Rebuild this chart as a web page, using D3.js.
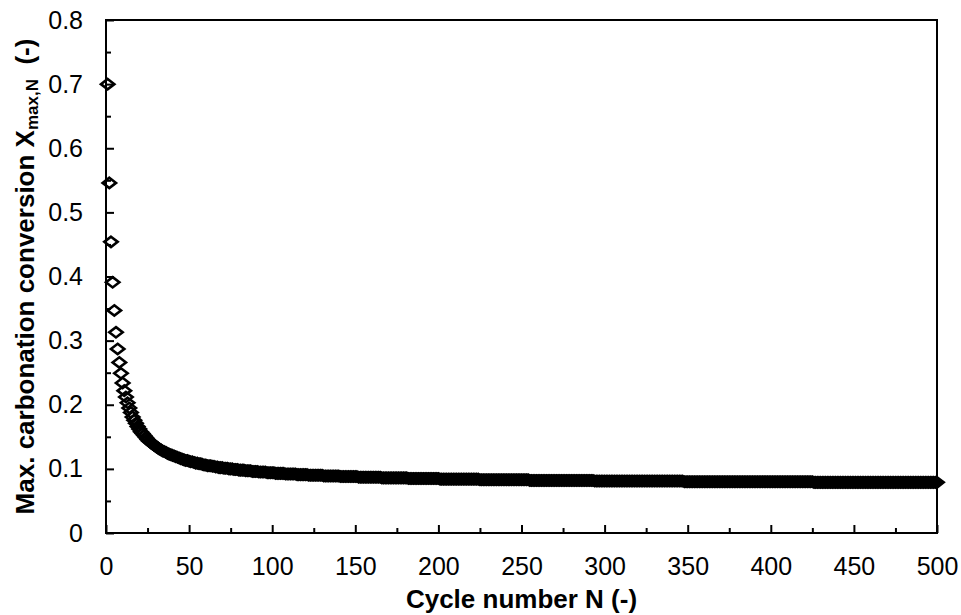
<!DOCTYPE html>
<html>
<head>
<meta charset="utf-8">
<script src="https://cdn.jsdelivr.net/npm/d3@7"></script>
<style>
  html, body { margin: 0; padding: 0; background: #fff; }
  svg { display: block; font-family: "Liberation Sans", Arial, sans-serif; }
</style>
</head>
<body>
<svg id="chart" width="961" height="615"></svg>
<script>
// Maximum carbonation conversion X_max,N for cycles N = 1 ... 500
const conversion = [
  0.700, 0.546, 0.454, 0.391, 0.347, 0.313, 0.287, 0.266, 0.249, 0.234,
  0.222, 0.212, 0.203, 0.195, 0.188, 0.181, 0.176, 0.171, 0.166, 0.162,
  0.158, 0.155, 0.152, 0.149, 0.146, 0.143, 0.141, 0.139, 0.137, 0.135,
  0.133, 0.131, 0.130, 0.128, 0.127, 0.126, 0.124, 0.123, 0.122, 0.121,
  0.120, 0.119, 0.118, 0.117, 0.116, 0.115, 0.114, 0.113, 0.113, 0.112,
  0.111, 0.111, 0.110, 0.109, 0.109, 0.108, 0.108, 0.107, 0.106, 0.106,
  0.105, 0.105, 0.105, 0.104, 0.104, 0.103, 0.103, 0.102, 0.102, 0.102,
  0.101, 0.101, 0.101, 0.100, 0.100, 0.100, 0.099, 0.099, 0.099, 0.098,
  0.098, 0.098, 0.098, 0.097, 0.097, 0.097, 0.097, 0.096, 0.096, 0.096,
  0.096, 0.095, 0.095, 0.095, 0.095, 0.095, 0.094, 0.094, 0.094, 0.094,
  0.094, 0.093, 0.093, 0.093, 0.093, 0.093, 0.093, 0.092, 0.092, 0.092,
  0.092, 0.092, 0.092, 0.092, 0.091, 0.091, 0.091, 0.091, 0.091, 0.091,
  0.091, 0.090, 0.090, 0.090, 0.090, 0.090, 0.090, 0.090, 0.090, 0.090,
  0.089, 0.089, 0.089, 0.089, 0.089, 0.089, 0.089, 0.089, 0.089, 0.089,
  0.088, 0.088, 0.088, 0.088, 0.088, 0.088, 0.088, 0.088, 0.088, 0.088,
  0.088, 0.087, 0.087, 0.087, 0.087, 0.087, 0.087, 0.087, 0.087, 0.087,
  0.087, 0.087, 0.087, 0.087, 0.087, 0.086, 0.086, 0.086, 0.086, 0.086,
  0.086, 0.086, 0.086, 0.086, 0.086, 0.086, 0.086, 0.086, 0.086, 0.086,
  0.086, 0.085, 0.085, 0.085, 0.085, 0.085, 0.085, 0.085, 0.085, 0.085,
  0.085, 0.085, 0.085, 0.085, 0.085, 0.085, 0.085, 0.085, 0.085, 0.085,
  0.084, 0.084, 0.084, 0.084, 0.084, 0.084, 0.084, 0.084, 0.084, 0.084,
  0.084, 0.084, 0.084, 0.084, 0.084, 0.084, 0.084, 0.084, 0.084, 0.084,
  0.084, 0.084, 0.084, 0.084, 0.083, 0.083, 0.083, 0.083, 0.083, 0.083,
  0.083, 0.083, 0.083, 0.083, 0.083, 0.083, 0.083, 0.083, 0.083, 0.083,
  0.083, 0.083, 0.083, 0.083, 0.083, 0.083, 0.083, 0.083, 0.083, 0.083,
  0.083, 0.083, 0.083, 0.083, 0.082, 0.082, 0.082, 0.082, 0.082, 0.082,
  0.082, 0.082, 0.082, 0.082, 0.082, 0.082, 0.082, 0.082, 0.082, 0.082,
  0.082, 0.082, 0.082, 0.082, 0.082, 0.082, 0.082, 0.082, 0.082, 0.082,
  0.082, 0.082, 0.082, 0.082, 0.082, 0.082, 0.082, 0.082, 0.082, 0.082,
  0.082, 0.082, 0.082, 0.081, 0.081, 0.081, 0.081, 0.081, 0.081, 0.081,
  0.081, 0.081, 0.081, 0.081, 0.081, 0.081, 0.081, 0.081, 0.081, 0.081,
  0.081, 0.081, 0.081, 0.081, 0.081, 0.081, 0.081, 0.081, 0.081, 0.081,
  0.081, 0.081, 0.081, 0.081, 0.081, 0.081, 0.081, 0.081, 0.081, 0.081,
  0.081, 0.081, 0.081, 0.081, 0.081, 0.081, 0.081, 0.081, 0.081, 0.081,
  0.081, 0.081, 0.081, 0.081, 0.081, 0.081, 0.081, 0.080, 0.080, 0.080,
  0.080, 0.080, 0.080, 0.080, 0.080, 0.080, 0.080, 0.080, 0.080, 0.080,
  0.080, 0.080, 0.080, 0.080, 0.080, 0.080, 0.080, 0.080, 0.080, 0.080,
  0.080, 0.080, 0.080, 0.080, 0.080, 0.080, 0.080, 0.080, 0.080, 0.080,
  0.080, 0.080, 0.080, 0.080, 0.080, 0.080, 0.080, 0.080, 0.080, 0.080,
  0.080, 0.080, 0.080, 0.080, 0.080, 0.080, 0.080, 0.080, 0.080, 0.080,
  0.080, 0.080, 0.080, 0.080, 0.080, 0.080, 0.080, 0.080, 0.080, 0.080,
  0.080, 0.080, 0.080, 0.080, 0.080, 0.080, 0.080, 0.080, 0.080, 0.080,
  0.080, 0.080, 0.080, 0.080, 0.080, 0.079, 0.079, 0.079, 0.079, 0.079,
  0.079, 0.079, 0.079, 0.079, 0.079, 0.079, 0.079, 0.079, 0.079, 0.079,
  0.079, 0.079, 0.079, 0.079, 0.079, 0.079, 0.079, 0.079, 0.079, 0.079,
  0.079, 0.079, 0.079, 0.079, 0.079, 0.079, 0.079, 0.079, 0.079, 0.079,
  0.079, 0.079, 0.079, 0.079, 0.079, 0.079, 0.079, 0.079, 0.079, 0.079,
  0.079, 0.079, 0.079, 0.079, 0.079, 0.079, 0.079, 0.079, 0.079, 0.079,
  0.079, 0.079, 0.079, 0.079, 0.079, 0.079, 0.079, 0.079, 0.079, 0.079,
  0.079, 0.079, 0.079, 0.079, 0.079, 0.079, 0.079, 0.079, 0.079, 0.079
];

// Cycle numbers start at 1
const cycleNumbers = conversion.map((_, i) => i + 1);

// Axis ticks
const xTicks = [0, 50, 100, 150, 200, 250, 300, 350, 400, 450, 500];
const xMinorTicks = [25, 75, 125, 175, 225, 275, 325, 375, 425, 475];
const yTicks = [0, 0.1, 0.2, 0.3, 0.4, 0.5, 0.6, 0.7, 0.8];
const yMinorTicks = [0.05, 0.15, 0.25, 0.35, 0.45, 0.55, 0.65, 0.75];

const xTitle = "Cycle number N (-)";
const yTitleMain = "Max. carbonation conversion X";
const yTitleSub = "max,N";
const yTitleEnd = "  (-)";

const svg = d3.select("#chart");
const plot = { left: 106, right: 937, top: 20, bottom: 533 };

const x = d3.scaleLinear().domain([0, 500]).range([plot.left, plot.right]);
const y = d3.scaleLinear().domain([0, 0.8]).range([plot.bottom, plot.top]);

const tickFont = 25;

// Minor ticks (inside, short)
svg.append("g")
  .attr("transform", `translate(0,${plot.bottom})`)
  .call(d3.axisBottom(x).tickValues(xMinorTicks).tickSizeInner(-5).tickSizeOuter(0).tickFormat(""))
  .call(g => g.select(".domain").remove())
  .call(g => g.selectAll("line").attr("stroke", "#000").attr("stroke-width", 2));

svg.append("g")
  .attr("transform", `translate(${plot.left},0)`)
  .call(d3.axisLeft(y).tickValues(yMinorTicks).tickSizeInner(-5).tickSizeOuter(0).tickFormat(""))
  .call(g => g.select(".domain").remove())
  .call(g => g.selectAll("line").attr("stroke", "#000").attr("stroke-width", 2));

// Major ticks and labels
svg.append("g")
  .attr("transform", `translate(0,${plot.bottom})`)
  .call(d3.axisBottom(x).tickValues(xTicks).tickSizeInner(-8).tickSizeOuter(0).tickPadding(24))
  .call(g => g.select(".domain").remove())
  .call(g => g.selectAll("line").attr("stroke", "#000").attr("stroke-width", 2))
  .call(g => g.selectAll("text")
    .attr("fill", "#000")
    .style("font-size", tickFont + "px")
    .style("font-family", '"Liberation Sans", Arial, sans-serif'));

svg.append("g")
  .attr("transform", `translate(${plot.left},0)`)
  .call(d3.axisLeft(y).tickValues(yTicks).tickSizeInner(-8).tickSizeOuter(0).tickPadding(23)
    .tickFormat(d => d === 0 ? "0" : d3.format(".1f")(d)))
  .call(g => g.select(".domain").remove())
  .call(g => g.selectAll("line").attr("stroke", "#000").attr("stroke-width", 2))
  .call(g => g.selectAll("text")
    .attr("fill", "#000")
    .style("font-size", tickFont + "px")
    .style("font-family", '"Liberation Sans", Arial, sans-serif'));

// Plot frame
svg.append("rect")
  .attr("x", plot.left)
  .attr("y", plot.top)
  .attr("width", plot.right - plot.left)
  .attr("height", plot.bottom - plot.top)
  .attr("fill", "none")
  .attr("stroke", "#000")
  .attr("stroke-width", 2);

// Wide open diamond marker
const wideDiamond = {
  draw(context, size) {
    const hh = Math.sqrt(size) / 2;
    const hw = hh * 1.3;
    context.moveTo(0, -hh);
    context.lineTo(hw, 0);
    context.lineTo(0, hh);
    context.lineTo(-hw, 0);
    context.closePath();
  }
};
const marker = d3.symbol().type(wideDiamond).size(106);

svg.append("g")
  .selectAll("path")
  .data(cycleNumbers)
  .join("path")
  .attr("d", marker)
  .attr("transform", (n, i) => `translate(${x(n)},${y(conversion[i])})`)
  .attr("fill", "none")
  .attr("stroke", "#000")
  .attr("stroke-width", 2.6);

// Axis titles
svg.append("text")
  .attr("x", (plot.left + plot.right) / 2)
  .attr("y", 608)
  .attr("text-anchor", "middle")
  .attr("font-weight", "bold")
  .attr("font-size", 26)
  .attr("fill", "#000")
  .text(xTitle);

const yTitle = svg.append("text")
  .attr("transform", `translate(34,${(plot.top + plot.bottom) / 2}) rotate(-90)`)
  .attr("text-anchor", "middle")
  .attr("font-weight", "bold")
  .attr("font-size", 26)
  .attr("fill", "#000")
  .style("white-space", "pre");
yTitle.append("tspan").text(yTitleMain);
yTitle.append("tspan").attr("font-size", 17).attr("dy", 4).text(yTitleSub);
yTitle.append("tspan").attr("dy", -4).text(yTitleEnd);
</script>
</body>
</html>
